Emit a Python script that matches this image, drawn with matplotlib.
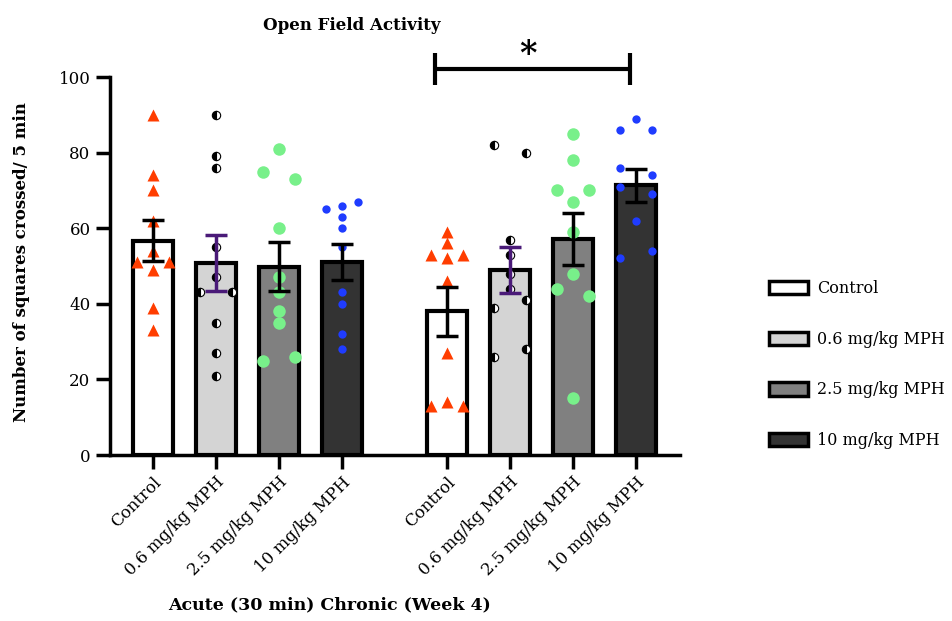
import numpy as np
import matplotlib.pyplot as plt
from matplotlib.patches import Patch

plt.rcParams['font.family'] = ['DejaVu Serif']

# groups and labels
groups = ['Control', '0.6 mg/kg MPH', '2.5 mg/kg MPH', '10 mg/kg MPH']
tick_labels = groups + groups

# bar means and SEM (acute 4, chronic 4)
means = [56.7, 50.8, 49.8, 51.1, 38.0, 49.0, 57.2, 71.3]
sems = [5.5, 7.3, 6.5, 4.7, 6.4, 6.1, 6.9, 4.4]

# individual animals
acute_ctrl = [90, 74, 70, 62, 54, 51, 51, 49, 39, 33]
acute_06 = [90, 79, 76, 55, 47, 43, 43, 35, 27, 21]
acute_25 = [81, 75, 73, 60, 47, 43, 38, 35, 25, 26]
acute_10 = [65, 66, 67, 63, 60, 55, 43, 40, 32, 28]
chron_ctrl = [59, 56, 53, 53, 52, 46, 27, 13, 13, 14]
chron_06 = [82, 80, 57, 53, 48, 44, 41, 39, 28, 26]
chron_25 = [85, 78, 70, 70, 67, 59, 48, 44, 42, 15]
chron_10 = [89, 86, 86, 76, 74, 71, 69, 62, 54, 52]

# column of each point in the scatter (-1 left, 0 middle, 1 right)
acute_ctrl_col = [0, 0, 0, 0, 0, -1, 1, 0, 0, 0]
acute_06_col = [0, 0, 0, 0, 0, -1, 1, 0, 0, 0]
acute_25_col = [0, -1, 1, 0, 0, 0, 0, 0, -1, 1]
acute_10_col = [-1, 0, 1, 0, 0, 0, 0, 0, 0, 0]
chron_ctrl_col = [0, 0, -1, 1, 0, 0, 0, -1, 1, 0]
chron_06_col = [-1, 1, 0, 0, 0, 0, 1, -1, 1, -1]
chron_25_col = [0, 0, -1, 1, 0, 0, 0, -1, 1, 0]
chron_10_col = [0, -1, 1, -1, 1, -1, 1, 0, 1, -1]

points = [acute_ctrl, acute_06, acute_25, acute_10, chron_ctrl, chron_06, chron_25, chron_10]
cols = [acute_ctrl_col, acute_06_col, acute_25_col, acute_10_col,
        chron_ctrl_col, chron_06_col, chron_25_col, chron_10_col]

bar_colors = ['white', '#d4d4d4', '#808080', '#333333']
err_colors = ['black', '#4a1a78', 'black', 'black']

x = np.array([0, 1, 2, 3, 4.67, 5.67, 6.67, 7.67])

fig = plt.figure(figsize=(9.53, 6.21), dpi=100)
ax = fig.add_axes([110/953, 1-455/621, 570/953, 378/621])

for i in range(8):
    g = i % 4
    ax.bar(x[i], means[i], width=0.63, color=bar_colors[g], edgecolor='black',
           linewidth=3, zorder=2)
    px = x[i] + 0.25*np.array(cols[i])
    if g == 0:
        ax.plot(px, points[i], '^', ms=9, color='#ff3d00', mec='none', zorder=3, clip_on=False)
    elif g == 1:
        ax.plot(px, points[i], 'o', ms=6, fillstyle='left', color='black',
                markerfacecoloralt='white', mec='black', mew=0.8, zorder=3)
    elif g == 2:
        ax.plot(px, points[i], 'o', ms=9, color='#78f08a', mec='none', zorder=3)
    else:
        ax.plot(px, points[i], 'o', ms=6, color='#1f3cff', mec='none', zorder=3)
    ax.errorbar(x[i], means[i], yerr=sems[i], fmt='none', ecolor=err_colors[g],
                elinewidth=2.5, capsize=8, capthick=2.5, zorder=4)

# significance bracket
ax.plot([4.476, 7.57], [102.1, 102.1], color='black', lw=3, clip_on=False, solid_capstyle='butt')
ax.plot([4.476, 4.476], [97.9, 106.3], color='black', lw=3, clip_on=False, solid_capstyle='butt')
ax.plot([7.57, 7.57], [97.9, 106.3], color='black', lw=3, clip_on=False, solid_capstyle='butt')
ax.text(5.95, 106, '*', fontsize=24, fontweight='bold', ha='center', va='center')

ax.set_xlim(-0.68, 8.37)
ax.set_ylim(0, 100)
ax.set_yticks([0, 20, 40, 60, 80, 100])
ax.set_xticks(x)
ax.set_xticklabels(tick_labels, rotation=45, ha='right', rotation_mode='anchor', fontsize=12)
ax.tick_params(axis='both', width=2.5, length=10, labelsize=12)
ax.tick_params(axis='y', pad=4)
ax.spines['top'].set_visible(False)
ax.spines['right'].set_visible(False)
ax.spines['left'].set_linewidth(2.5)
ax.spines['bottom'].set_linewidth(2.5)
ax.set_ylabel('Number of squares crossed/ 5 min', fontsize=12, fontweight='bold')
ax.yaxis.set_label_coords(-0.14, 0.51)

fig.text(352/953, 1-25/621, 'Open Field Activity', fontsize=12, fontweight='bold',
         ha='center', va='center')
fig.text(330/953, 1-605/621, 'Acute (30 min) Chronic (Week 4)', fontsize=12.5,
         fontweight='bold', ha='center', va='center')

handles = [Patch(facecolor=c, edgecolor='black', linewidth=2.5) for c in bar_colors]
fig.legend(handles, groups, loc='upper left', bbox_to_anchor=(755/953, 1-266/621),
           frameon=False, fontsize=11.5, handlelength=2.4, handleheight=0.9,
           labelspacing=2.1, handletextpad=0.6)

fig.savefig('out.png', dpi=100)
